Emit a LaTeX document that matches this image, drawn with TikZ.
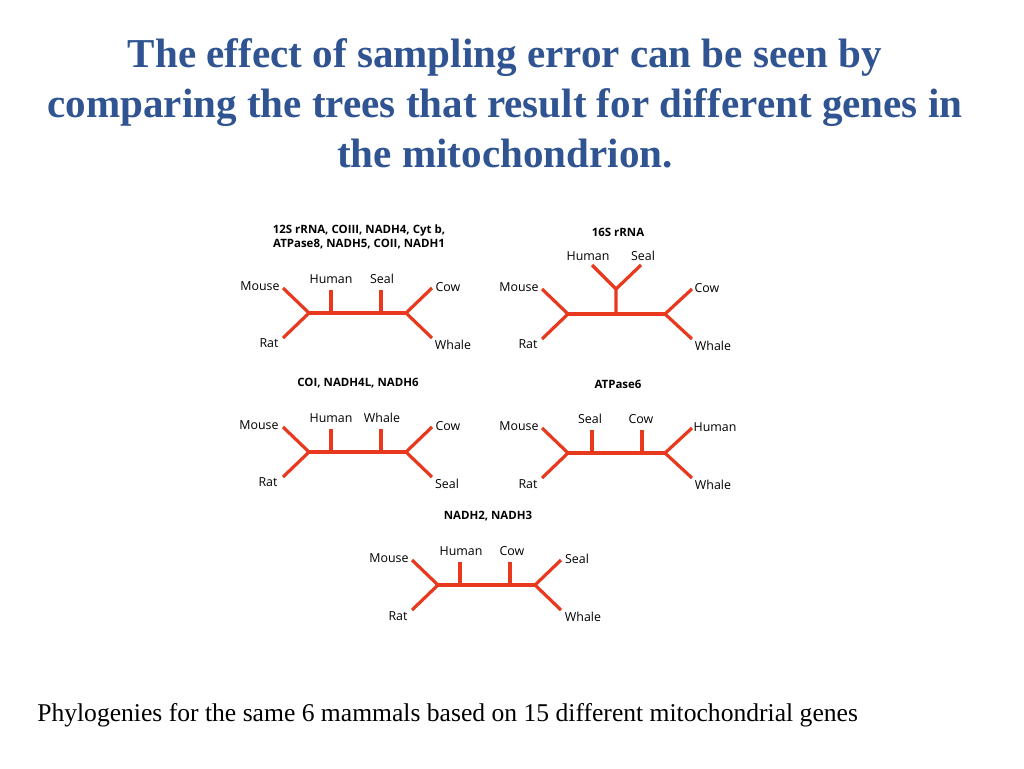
\documentclass[tikz,border=0pt]{standalone}
\usepackage{fontspec}
\setmainfont{Liberation Serif}
\newfontfamily\lab{Open Sans}
\definecolor{ttl}{HTML}{2F5491}
\definecolor{br}{HTML}{E8391E}
\begin{document}
\begin{tikzpicture}[x=0.75pt,y=-0.75pt,
 br/.style={draw=br,line width=2.4pt},
 lb/.style={font=\lab\fontsize{9.3}{10}\selectfont,inner sep=0pt},
 tt/.style={font=\lab\bfseries\fontsize{8.6}{10.2}\selectfont,inner sep=0pt,align=center}]
\useasboundingbox (0,0) rectangle (1024,768);
\node[font=\bfseries\fontsize{30.8}{37.5}\selectfont,text=ttl,align=center] (title) at (505,103) {The effect of sampling error can be seen by\\comparing the trees that result for different genes in\\the mitochondrion.};
\node[anchor=west,font=\fontsize{19.2}{22}\selectfont,inner sep=0pt] (cap) at (37,715) {Phylogenies for the same 6 mammals based on 15 different mitochondrial genes};
\newcommand{\tree}[2]{%
 \coordinate (L) at (#1,#2); \coordinate (R) at ({#1+97},#2);
 \draw[br] ({#1-26},{#2-25}) -- (L) -- ({#1-26},{#2+25});
 \draw[br] ({#1+123},{#2-25}) -- (R) -- ({#1+123},{#2+25});
 \draw[br] (L) -- (R);
 \draw[br] ({#1+22},#2) -- ({#1+22},{#2-23});
 \draw[br] ({#1+72},#2) -- ({#1+72},{#2-23});
}
\tree{309}{313}
\node[tt] (t1) at (359,237) {12S rRNA, COIII, NADH4, Cyt b,\\ATPase8, NADH5, COII, NADH1};
\node[lb] at (260,286) {Mouse}; \node[lb] at (331,279) {Human}; \node[lb] at (382,279) {Seal};
\node[lb] at (448,287) {Cow}; \node[lb] at (269,343) {Rat}; \node[lb] at (453,345) {Whale};
% tree 2
\draw[br] (542,289) -- (568,314) -- (542,339);
\draw[br] (692,289) -- (665,314) -- (692,339);
\draw[br] (568,314) -- (665,314);
\draw[br] (616,314) -- (616,289) -- (592,265);
\draw[br] (616,289) -- (641,265);
\node[tt] at (618,232) {16S rRNA};
\node[lb] at (588,256) {Human}; \node[lb] at (643,256) {Seal};
\node[lb] at (519,287) {Mouse}; \node[lb] at (528,344) {Rat}; \node[lb] at (707,288) {Cow}; \node[lb] at (713,346) {Whale};
% tree 3
\tree{309}{452}
\node[tt] at (358,383) {COI, NADH4L, NADH6};
\node[lb] at (259,425) {Mouse}; \node[lb] at (331,418) {Human}; \node[lb] at (382,418) {Whale};
\node[lb] at (448,426) {Cow}; \node[lb] at (268,482) {Rat}; \node[lb] at (447,484) {Seal};
% tree 4
\draw[br] (542,428) -- (568,453) -- (542,478);
\draw[br] (692,428) -- (665,453) -- (692,478);
\draw[br] (568,453) -- (665,453);
\draw[br] (592,453) -- (592,430); \draw[br] (642,453) -- (642,430);
\node[tt] at (618,384) {ATPase6};
\node[lb] at (590,419) {Seal}; \node[lb] at (641,419) {Cow}; \node[lb] at (519,426) {Mouse};
\node[lb] at (715,427) {Human}; \node[lb] at (528,484) {Rat}; \node[lb] at (713,485) {Whale};
% tree 5
\tree{438}{585}
\node[tt] at (488,516) {NADH2, NADH3};
\node[lb] at (389,558) {Mouse}; \node[lb] at (461,551) {Human}; \node[lb] at (512,551) {Cow};
\node[lb] at (577,559) {Seal}; \node[lb] at (398,616) {Rat}; \node[lb] at (583,617) {Whale};
\end{tikzpicture}
\end{document}
